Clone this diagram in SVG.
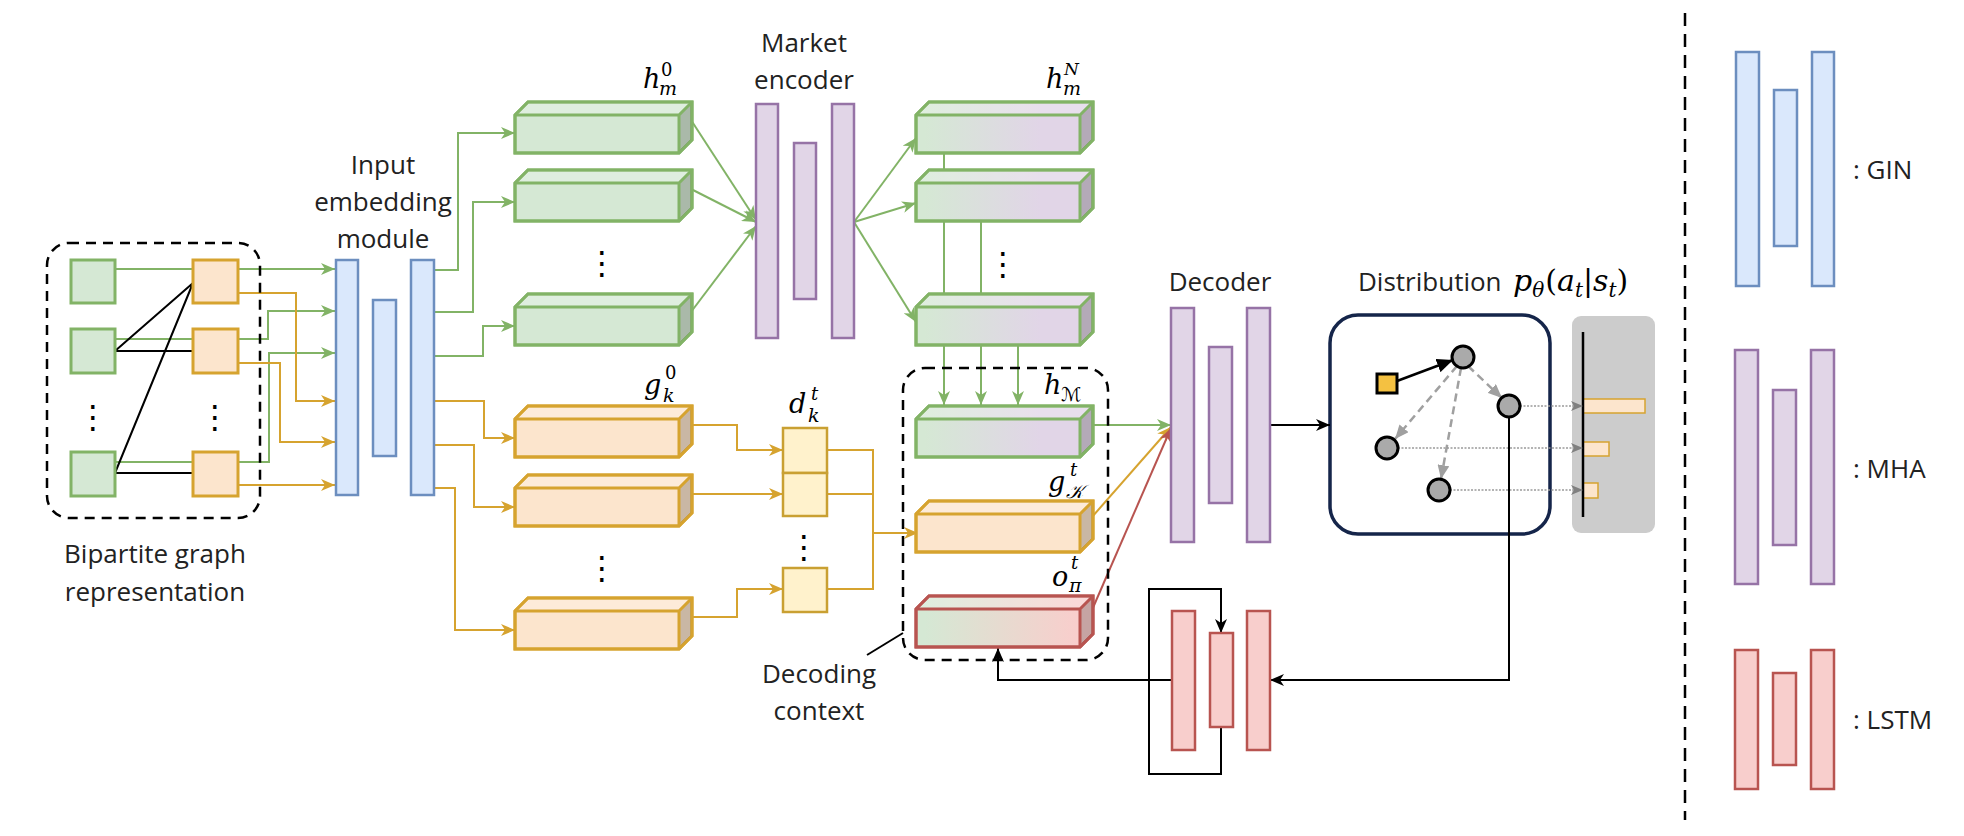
<svg xmlns="http://www.w3.org/2000/svg" xmlns:xlink="http://www.w3.org/1999/xlink" width="1964" height="836" viewBox="0 0 1964 836">
<style>
.lbl{font-family:"Open Sans","Noto Sans","Liberation Sans",sans-serif;font-size:26px;fill:#222}
.mi{font-family:"DejaVu Serif","Liberation Serif",serif;font-style:italic;fill:#000}
.mr{font-family:"DejaVu Serif","Liberation Serif",serif;font-style:normal;fill:#000}
.scr{font-family:"DejaVu Serif","DejaVu Sans","Noto Sans",serif;font-style:italic;fill:#000}
.dots{font-family:"DejaVu Sans",sans-serif;font-size:32px;fill:#000;text-anchor:middle}
.gbar{fill:#dae8fc;stroke:#6c8ebf;stroke-width:2.5}
.pbar{fill:#e1d5e7;stroke:#9673a6;stroke-width:2.5}
.rbar{fill:#f8cecc;stroke:#b85450;stroke-width:2.5}
.gsq{fill:#d5e8d4;stroke:#82b366;stroke-width:3}
.osq{fill:#fce5cd;stroke:#d6a32f;stroke-width:3}
.dsq{fill:#fff2cc;stroke:#c9a032;stroke-width:2.5}
.cg{fill:none;stroke:#82b366;stroke-width:2}
.co{fill:none;stroke:#d6a32f;stroke-width:2}
.cr{fill:none;stroke:#b85450;stroke-width:2}
.ck{fill:none;stroke:#000;stroke-width:2}
.dash{fill:none;stroke:#000;stroke-width:2.5;stroke-dasharray:10 7}
.gdash{fill:none;stroke:#a0a0a0;stroke-width:2.5;stroke-dasharray:8 5}
.dot{fill:none;stroke:#9a9a9a;stroke-width:1.5;stroke-dasharray:2 1.5}
.nd{fill:#aaaaaa;stroke:#000;stroke-width:3}
</style>
<defs>
<linearGradient id="gGP" x1="0" y1="0" x2="1" y2="0"><stop offset="0.05" stop-color="#d5e8d4"/><stop offset="0.7" stop-color="#e1d5e7"/></linearGradient>
<linearGradient id="gGR" x1="0" y1="0" x2="1" y2="0"><stop offset="0.05" stop-color="#d5e8d4"/><stop offset="0.9" stop-color="#f8cecc"/></linearGradient>
<g id="cube">
<path d="M0,0 L13,-13 H177 V25 L164,38 H0 Z"/>
<path d="M0,0 L13,-13 H177 L164,0 Z" fill="#fff" fill-opacity="0.25" stroke="none"/>
<path d="M164,0 L177,-13 V25 L164,38 Z" fill="#000" fill-opacity="0.2" stroke="none"/>
<path d="M0,0 H164 V38 M164,0 L177,-13" fill="none"/>
<path d="M0,0 L13,-13 H177 V25 L164,38 H0 Z" fill="none"/>
</g>
<marker id="aG" viewBox="0 0 14 12" refX="14" refY="6" markerWidth="14" markerHeight="12" markerUnits="userSpaceOnUse" orient="auto"><path d="M0,0 L14,6 L0,12 L4,6 Z" fill="#82b366"/></marker>
<marker id="aO" viewBox="0 0 14 12" refX="14" refY="6" markerWidth="14" markerHeight="12" markerUnits="userSpaceOnUse" orient="auto"><path d="M0,0 L14,6 L0,12 L4,6 Z" fill="#d6a32f"/></marker>
<marker id="aR" viewBox="0 0 14 12" refX="14" refY="6" markerWidth="14" markerHeight="12" markerUnits="userSpaceOnUse" orient="auto"><path d="M0,0 L14,6 L0,12 L4,6 Z" fill="#b85450"/></marker>
<marker id="aK" viewBox="0 0 14 12" refX="14" refY="6" markerWidth="14" markerHeight="12" markerUnits="userSpaceOnUse" orient="auto"><path d="M0,0 L14,6 L0,12 L4,6 Z" fill="#000"/></marker>
<marker id="aKb" viewBox="0 0 16 14" refX="16" refY="7" markerWidth="16" markerHeight="14" markerUnits="userSpaceOnUse" orient="auto"><path d="M0,0 L16,7 L0,14 Z" fill="#000"/></marker>
<marker id="aGr" viewBox="0 0 14 12" refX="14" refY="6" markerWidth="14" markerHeight="12" markerUnits="userSpaceOnUse" orient="auto"><path d="M0,0 L14,6 L0,12 Z" fill="#a0a0a0"/></marker>
<marker id="aGd" viewBox="0 0 12 10" refX="12" refY="5" markerWidth="12" markerHeight="10" markerUnits="userSpaceOnUse" orient="auto"><path d="M0,0 L12,5 L0,10 L3,5 Z" fill="#808080"/></marker>
</defs>
<rect width="1964" height="836" fill="#fff"/>

<g id="distribution">
<rect x="1330" y="315" width="220" height="219" rx="28" fill="#fff" stroke="#15254a" stroke-width="3.5"/>
<text class="lbl" x="1358" y="291">Distribution</text>
<text class="mi" x="1513" y="291" font-size="30">p<tspan font-size="20" dy="6">θ</tspan><tspan class="mr" dy="-6" dx="1">(</tspan>a<tspan font-size="20" dy="6">t</tspan><tspan class="mr" dy="-6">|</tspan>s<tspan font-size="20" dy="6">t</tspan><tspan class="mr" dy="-6">)</tspan></text>
</g>

<g id="probabilities">
<rect x="1572" y="316" width="83" height="217" rx="9" fill="#cccccc"/>
<rect x="1583" y="399" width="62" height="14" fill="#fce5cd" stroke="#d6a32f" stroke-width="1.5"/>
<rect x="1583" y="442" width="26" height="14" fill="#fce5cd" stroke="#d6a32f" stroke-width="1.5"/>
<rect x="1583" y="483" width="15" height="15" fill="#fce5cd" stroke="#d6a32f" stroke-width="1.5"/>
<line x1="1583" y1="332" x2="1583" y2="517" stroke="#000" stroke-width="2.5"/>
</g>

<g id="connectors">
<path class="cg" d="M115,269 H335" marker-end="url(#aG)"/>
<path class="cg" d="M115,339 H268 V311 H335" marker-end="url(#aG)"/>
<path class="cg" d="M115,462 H269 V353 H335" marker-end="url(#aG)"/>
<path class="ck" d="M115,351 H193 M115,473 H193 M115,351 L193,283 M115,473 L193,283"/>
<path class="co" d="M238,293 H296 V401 H335" marker-end="url(#aO)"/>
<path class="co" d="M238,363 H280 V442 H335" marker-end="url(#aO)"/>
<path class="co" d="M238,485 H335" marker-end="url(#aO)"/>
<path class="cg" d="M434,270 H458 V133 H515" marker-end="url(#aG)"/>
<path class="cg" d="M434,312 H473 V202 H515" marker-end="url(#aG)"/>
<path class="cg" d="M434,356 H483 V326 H515" marker-end="url(#aG)"/>
<path class="co" d="M434,401 H484 V438 H515" marker-end="url(#aO)"/>
<path class="co" d="M434,445 H474 V507 H515" marker-end="url(#aO)"/>
<path class="co" d="M434,488 H455 V630 H515" marker-end="url(#aO)"/>
<path class="cg" d="M691,120 L756,220" marker-end="url(#aG)"/>
<path class="cg" d="M691,189 L756,222" marker-end="url(#aG)"/>
<path class="cg" d="M691,312 L756,226" marker-end="url(#aG)"/>
<path class="cg" d="M854,222 L916,138" marker-end="url(#aG)"/>
<path class="cg" d="M854,222 L916,203" marker-end="url(#aG)"/>
<path class="cg" d="M854,222 L916,322" marker-end="url(#aG)"/>
<path class="cg" d="M944,152 V183 M944,221 V307 M981,221 V307"/>
<path class="cg" d="M944,344 V405" marker-end="url(#aG)"/>
<path class="cg" d="M981,344 V405" marker-end="url(#aG)"/>
<path class="cg" d="M1018,344 V405" marker-end="url(#aG)"/>
<path class="co" d="M691,425 H737 V450 H783" marker-end="url(#aO)"/>
<path class="co" d="M691,494 H783" marker-end="url(#aO)"/>
<path class="co" d="M691,617 H737 V589 H783" marker-end="url(#aO)"/>
<path class="co" d="M827,450 H873 V589 H827 M827,494 H873"/>
<path class="co" d="M873,533 H918" marker-end="url(#aO)"/>
<path class="cg" d="M1092,425 H1171" marker-end="url(#aG)"/>
<path class="co" d="M1092,517 L1171,427" marker-end="url(#aO)"/>
<path class="cr" d="M1092,610 L1171,428" marker-end="url(#aR)"/>
<path class="ck" d="M1270,425 H1330" marker-end="url(#aK)"/>
<path class="ck" style="stroke-width:2.5" d="M1397,381 L1453,360" marker-end="url(#aKb)"/>
<path class="gdash" d="M1468,366 L1502,398" marker-end="url(#aGr)"/>
<path class="gdash" d="M1457,366 L1395,439" marker-end="url(#aGr)"/>
<path class="gdash" d="M1461,368 L1441,479" marker-end="url(#aGr)"/>
<path class="dot" d="M1520,406 H1583" marker-end="url(#aGd)"/>
<path class="dot" d="M1398,448 H1583" marker-end="url(#aGd)"/>
<path class="dot" d="M1450,490 H1583" marker-end="url(#aGd)"/>
<path class="ck" d="M1509,417 V680 H1270" marker-end="url(#aK)"/>
<path class="ck" d="M1172,680 H998 V648" marker-end="url(#aK)"/>
<path class="ck" d="M1221,727 V774 H1149 V589 H1221 V633" marker-end="url(#aK)"/>
<path class="ck" d="M903,633 L867,655"/>
</g>

<g id="graph-nodes">
<rect x="1377" y="374" width="20" height="19" fill="#f4c141" stroke="#000" stroke-width="3"/>
<circle class="nd" cx="1463" cy="357" r="11"/>
<circle class="nd" cx="1509" cy="406" r="11"/>
<circle class="nd" cx="1387" cy="448" r="11"/>
<circle class="nd" cx="1439" cy="490" r="11"/>
</g>

<g id="bipartite-graph">
<rect class="dash" x="47" y="243" width="213" height="275" rx="22"/>
<rect class="gsq" x="71" y="260" width="44" height="43"/>
<rect class="gsq" x="71" y="329" width="44" height="44"/>
<rect class="gsq" x="71" y="452" width="44" height="44"/>
<rect class="osq" x="193" y="260" width="45" height="43"/>
<rect class="osq" x="193" y="329" width="45" height="44"/>
<rect class="osq" x="193" y="452" width="45" height="44"/>
<text class="dots" x="93" y="428">⋮</text>
<text class="dots" x="215" y="428">⋮</text>
<text class="lbl" text-anchor="middle"><tspan x="155" y="563">Bipartite graph</tspan><tspan x="155" y="601">representation</tspan></text>
</g>

<g id="input-embedding">
<rect class="gbar" x="336" y="260" width="22" height="235"/>
<rect class="gbar" x="373" y="300" width="23" height="156"/>
<rect class="gbar" x="411" y="260" width="23" height="235"/>
<text class="lbl" text-anchor="middle"><tspan x="383" y="174">Input</tspan><tspan x="383" y="211">embedding</tspan><tspan x="383" y="248">module</tspan></text>
</g>

<g id="h-m-0">
<use xlink:href="#cube" x="515" y="115" fill="#d5e8d4" stroke="#82b366" stroke-width="3"/>
<use xlink:href="#cube" x="515" y="183" fill="#d5e8d4" stroke="#82b366" stroke-width="3"/>
<use xlink:href="#cube" x="515" y="307" fill="#d5e8d4" stroke="#82b366" stroke-width="3"/>
<text class="dots" x="602" y="274">⋮</text>
<text class="mi" x="643" y="88" font-size="27">h</text>
<text class="mr" x="661" y="76" font-size="18">0</text>
<text class="mi" x="659" y="95" font-size="19">m</text>
</g>

<g id="g-k-0">
<use xlink:href="#cube" x="515" y="419" fill="#fce5cd" stroke="#d6a32f" stroke-width="3"/>
<use xlink:href="#cube" x="515" y="488" fill="#fce5cd" stroke="#d6a32f" stroke-width="3"/>
<use xlink:href="#cube" x="515" y="611" fill="#fce5cd" stroke="#d6a32f" stroke-width="3"/>
<text class="dots" x="602" y="579">⋮</text>
<text class="mi" x="644" y="394" font-size="27">g</text>
<text class="mr" x="665" y="379" font-size="18">0</text>
<text class="mi" x="663" y="402" font-size="19">k</text>
</g>

<g id="market-encoder">
<rect class="pbar" x="756" y="104" width="22" height="234"/>
<rect class="pbar" x="794" y="143" width="22" height="156"/>
<rect class="pbar" x="832" y="104" width="22" height="234"/>
<text class="lbl" text-anchor="middle"><tspan x="804" y="52">Market</tspan><tspan x="804" y="89">encoder</tspan></text>
</g>

<g id="h-m-N">
<use xlink:href="#cube" x="916" y="115" fill="url(#gGP)" stroke="#82b366" stroke-width="3"/>
<use xlink:href="#cube" x="916" y="183" fill="url(#gGP)" stroke="#82b366" stroke-width="3"/>
<use xlink:href="#cube" x="916" y="307" fill="url(#gGP)" stroke="#82b366" stroke-width="3"/>
<text class="dots" x="1003" y="275">⋮</text>
<text class="mi" x="1046" y="88" font-size="27">h</text>
<text class="mi" x="1064" y="75" font-size="17">N</text>
<text class="mi" x="1063" y="95" font-size="19">m</text>
</g>

<g id="d-k-t">
<rect class="dsq" x="783" y="428" width="44" height="45"/>
<rect class="dsq" x="783" y="473" width="44" height="43"/>
<rect class="dsq" x="783" y="568" width="44" height="44"/>
<text class="dots" x="804" y="558">⋮</text>
<text class="mi" x="789" y="413" font-size="27">d</text>
<text class="mi" x="811" y="400" font-size="18">t</text>
<text class="mi" x="808" y="422" font-size="19">k</text>
</g>

<g id="decoding-context">
<rect class="dash" x="903" y="368" width="205" height="292" rx="22"/>
<use xlink:href="#cube" x="916" y="419" fill="url(#gGP)" stroke="#82b366" stroke-width="3"/>
<use xlink:href="#cube" x="916" y="514" fill="#fce5cd" stroke="#d6a32f" stroke-width="3"/>
<use xlink:href="#cube" x="916" y="609" fill="url(#gGR)" stroke="#b85450" stroke-width="3"/>
<text class="mi" x="1044" y="394" font-size="27">h</text>
<text class="scr" x="1061" y="401" font-size="19">ℳ</text>
<text class="mi" x="1048" y="491" font-size="27">g</text>
<text class="mi" x="1070" y="476" font-size="18">t</text>
<text class="scr" x="1066" y="498" font-size="19">𝒦</text>
<text class="mi" x="1052" y="586" font-size="27">o</text>
<text class="mi" x="1071" y="569" font-size="18">t</text>
<text class="mi" x="1069" y="592" font-size="19">π</text>
<text class="lbl" text-anchor="middle"><tspan x="819" y="683">Decoding</tspan><tspan x="819" y="720">context</tspan></text>
</g>

<g id="decoder">
<rect class="pbar" x="1171" y="308" width="23" height="234"/>
<rect class="pbar" x="1209" y="347" width="23" height="156"/>
<rect class="pbar" x="1247" y="308" width="23" height="234"/>
<text class="lbl" x="1220" y="291" text-anchor="middle">Decoder</text>
</g>

<g id="lstm">
<rect class="rbar" x="1172" y="611" width="23" height="139"/>
<rect class="rbar" x="1210" y="633" width="23" height="94"/>
<rect class="rbar" x="1247" y="611" width="23" height="139"/>
</g>

<g id="separator">
<line x1="1685" y1="13" x2="1685" y2="820" stroke="#000" stroke-width="2.5" stroke-dasharray="13 8"/>
</g>

<g id="legend-gin">
<rect class="gbar" x="1736" y="52" width="23" height="234"/>
<rect class="gbar" x="1774" y="90" width="23" height="156"/>
<rect class="gbar" x="1812" y="52" width="22" height="234"/>
<text class="lbl" x="1853" y="179">: GIN</text>
</g>
<g id="legend-mha">
<rect class="pbar" x="1735" y="350" width="23" height="234"/>
<rect class="pbar" x="1773" y="390" width="23" height="155"/>
<rect class="pbar" x="1811" y="350" width="23" height="234"/>
<text class="lbl" x="1853" y="478">: MHA</text>
</g>
<g id="legend-lstm">
<rect class="rbar" x="1735" y="650" width="23" height="139"/>
<rect class="rbar" x="1773" y="673" width="23" height="92"/>
<rect class="rbar" x="1811" y="650" width="23" height="139"/>
<text class="lbl" x="1853" y="729">: LSTM</text>
</g>
</svg>
